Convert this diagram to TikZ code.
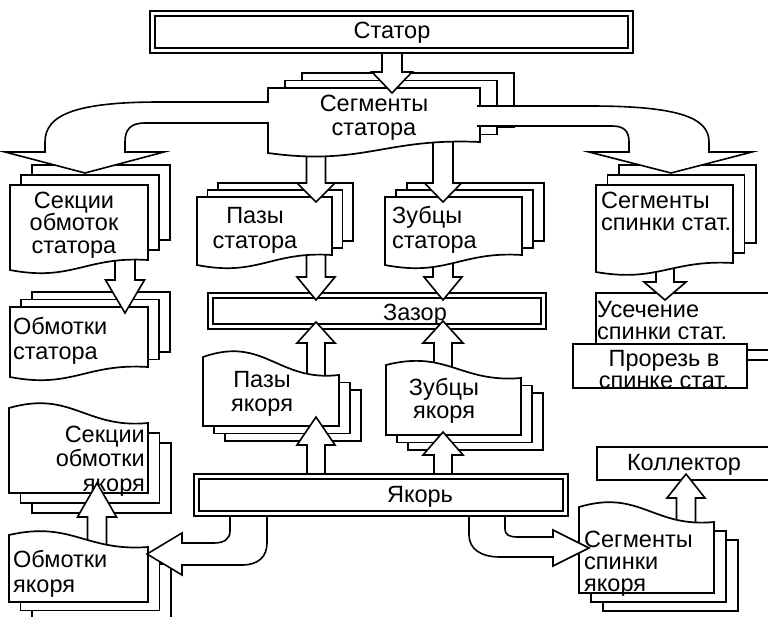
\documentclass[tikz,border=0pt]{standalone}
\usepackage{fontspec}
\setmainfont{Liberation Sans}

\tikzset{
  lbl/.style={inner sep=0pt, font=\fontsize{23.5}{#1}\selectfont},
  lbl/.default=24,
  dbox/.style={draw, double, line width=2pt, double distance=3pt, fill=white, inner sep=0pt},
  sbox/.style={draw, line width=1.7pt, fill=white, inner sep=0pt},
  page/.style={draw, line width=1.7pt, fill=white},
  barrow/.style={draw, line width=1.6pt, fill=white},
}

% document stack, wave at the bottom: left, top, right, bottom, dx, dy, wave
\newcommand{\docup}[7]{%
  \draw[page] ({#1+2*#5},{#2-2*#6}) rectangle ({#3+2*#5},{#4-2*#6});
  \draw[page] ({#1+#5},{#2-#6}) rectangle ({#3+#5},{#4-#6});
  \draw[page] (#1,#2) -- (#3,#2) -- (#3,#4)
    .. controls ({#1+0.55*(#3-#1)},{#4-0.4*#7}) and ({#1+0.45*(#3-#1)},{#4+2.2*#7}) .. ({#1},{#4+#7}) -- cycle;
}
% document stack, wave at the top: left, top, right, bottom, dx, dy, wave
\newcommand{\docdn}[7]{%
  \draw[page] ({#1+2*#5},{#2+2*#6}) rectangle ({#3+2*#5},{#4+2*#6});
  \draw[page] ({#1+#5},{#2+#6}) rectangle ({#3+#5},{#4+#6});
  \draw[page] (#3,#2) -- (#3,#4) -- (#1,#4) -- ({#1},{#2-#7})
    .. controls ({#1+0.45*(#3-#1)},{#2-2.2*#7}) and ({#1+0.55*(#3-#1)},{#2+0.4*#7}) .. (#3,#2) -- cycle;
}
% block arrow: x, tail, head base, tip, half shaft, half head
\newcommand{\blockarrow}[6]{%
  \draw[barrow] ({#1-#5},#2) -- ({#1-#5},#3) -- ({#1-#6},#3) -- (#1,#4)
    -- ({#1+#6},#3) -- ({#1+#5},#3) -- ({#1+#5},#2);
}

\begin{document}
\begin{tikzpicture}[x=1pt,y=-1pt]
\clip (0,0) rectangle (768,616);

% ends of the chains (labels sit on their last baseline)
\node[dbox, minimum width=333pt, minimum height=31pt] (zazor) at (377,311) {};
\node[lbl, anchor=base] (zazor-t) at (415,320) {Зазор};
\node[sbox, minimum width=194pt, minimum height=57pt] (usech) at (693,321.5) {};
\node[lbl=22, anchor=base west, align=left] (usech-t) at (597,339) {Усечение\\спинки стат.};
\node[sbox, minimum width=174pt, minimum height=44pt] (prorez) at (660,366) {};
\node[lbl=22, anchor=base, align=center] (prorez-t) at (664,388.5) {Прорезь в\\спинке стат.};
\coordinate (rimedge) at (775,360);
\draw[line width=1.7pt] (prorez.east |- rimedge) -- (rimedge);
\node[sbox, minimum width=174pt, minimum height=33pt] (koll) at (684,463.5) {};
\node[lbl, anchor=base] (koll-t) at (684,470) {Коллектор};
\docup{10}{307}{148}{367}{11}{7.5}{10}
\node[lbl=25, anchor=base west, align=left] (obmst-t) at (13,359) {Обмотки\\статора};
\docdn{9}{423}{148}{493}{11.5}{10}{15}
\node[lbl=24.5, anchor=base east, align=right] (sekya-t) at (145,491) {Секции\\обмотки\\якоря};

\blockarrow{316}{245}{277}{300}{9.5}{19}
\blockarrow{443}{245}{277}{300}{10}{19}
\blockarrow{316}{385}{343}{322}{9}{19}
\blockarrow{443}{390}{343}{321}{9}{20}
\blockarrow{125}{250}{280}{313}{10}{19.5}
\blockarrow{665}{255}{282}{300}{9}{21}
\blockarrow{97}{555}{517}{483}{9.5}{19.5}
\blockarrow{686}{530}{498}{474}{9.5}{19}

% middle row
\docup{197}{197}{332}{255}{10.5}{7}{10}
\node[lbl=25, anchor=base, align=center] (pazst-t) at (255,248) {Пазы\\статора};
\docup{385}{197}{522}{255}{11}{7}{10}
\node[lbl=25, anchor=base west, align=left] (zubst-t) at (392,248) {Зубцы\\статора};
\docdn{203}{375}{339}{426}{11}{7.5}{18}
\node[lbl, anchor=base, align=center] (pazya-t) at (262,411) {Пазы\\якоря};
\docdn{386}{378}{521}{435}{11}{7.5}{13}
\node[lbl=23, anchor=base, align=center] (zubya-t) at (444,418) {Зубцы\\якоря};
\docup{10}{185}{148}{260}{11}{10}{10}
\node[lbl=22.5, anchor=base, align=center] (sekst-t) at (74,253) {Секции\\обмоток\\статора};
\docup{596}{185}{733}{263}{11.5}{10}{9}
\node[lbl=22, anchor=base west, align=left] (segsp-t) at (601,230) {Сегменты\\спинки стат.};
\docdn{9}{547}{148}{602}{11.5}{8.5}{12}
\node[lbl=25, anchor=base west, align=left] (obmya-t) at (13,592) {Обмотки\\якоря};
\docdn{579}{522}{714}{593}{12}{9}{15}
\node[lbl=22, anchor=base west, align=left] (segya-t) at (584,591) {Сегменты\\спинки\\якоря};

\blockarrow{316}{140}{183}{202}{9.5}{19}
\blockarrow{443}{135}{183}{202}{10}{18.5}
\blockarrow{316}{476}{445}{417}{9}{19}
\blockarrow{443}{476}{455}{432}{9}{20}
\draw[barrow] (230,510) -- (230,531) .. controls (230,539) and (224,543) .. (214,543) -- (182,543)
  -- (182,533) -- (147,554) -- (182,575) -- (182,565) -- (242,565)
  .. controls (258,565) and (267,557) .. (267,543) -- (267,510);
\draw[barrow] (505,510) -- (505,529) .. controls (505,535) and (509,537) .. (518,537) -- (553,537)
  -- (553,530) -- (589,548) -- (553,566) -- (553,557) -- (500,557)
  .. controls (481,557) and (469,549) .. (469,535) -- (469,510);

% sources
\docup{268}{88}{480}{142}{17}{7.5}{11}
\node[lbl=23.5, anchor=base, align=center] (segst-t) at (374,135) {Сегменты\\статора};
\node[dbox, minimum width=369pt, minimum height=37pt] (yakor) at (381,495) {};
\node[lbl, anchor=base] (yakor-t) at (420,502) {Якорь};

\draw[barrow] (268.8,102) -- (160,102) .. controls (75,102) and (45,115) .. (45,142) -- (45,152)
  -- (5,152) -- (85,173) -- (164,152) -- (125,152) -- (125,142)
  .. controls (125,130) and (130,123) .. (145,123) -- (268.8,123);
\draw[barrow] (477,106) -- (590,106) .. controls (680,106) and (709,118) .. (709,142) -- (709,152)
  -- (752,152) -- (671,173) -- (589,152) -- (629,152) -- (629,142)
  .. controls (629,131) and (624,126) .. (612,126) -- (477,126);
\blockarrow{392}{50}{72}{93}{10}{20}

\node[dbox, minimum width=478pt, minimum height=37pt] (stator) at (391.5,32) {};
\node[lbl, anchor=base] (stator-t) at (392,38) {Статор};
\end{tikzpicture}
\end{document}
